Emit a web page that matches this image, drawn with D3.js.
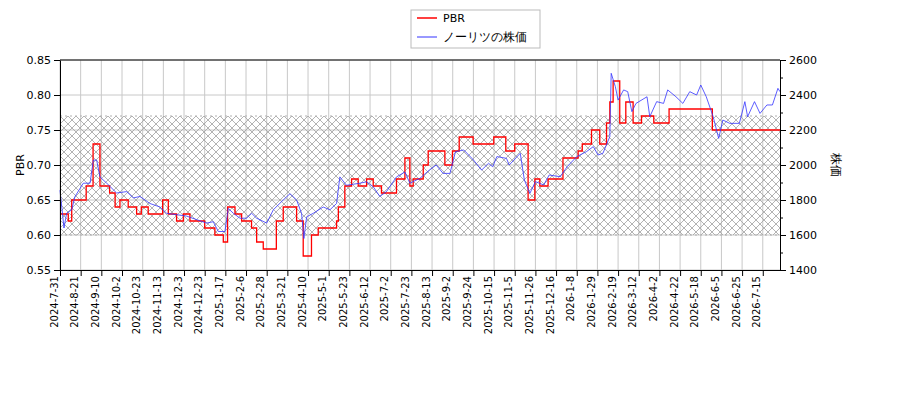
<!DOCTYPE html><html><head><meta charset="utf-8"><script src="https://cdn.jsdelivr.net/npm/d3@7"></script>
<style>body{margin:0;background:#fff}text{font-family:"DejaVu Sans",sans-serif}</style></head><body><svg id="c" width="900" height="400"></svg>
<script>
const tickLabels=["2024-7-31","2024-8-21","2024-9-10","2024-10-2","2024-10-23","2024-11-13","2024-12-3","2024-12-23","2025-1-17","2025-2-6","2025-2-28","2025-3-21","2025-4-10","2025-5-1","2025-5-23","2025-6-12","2025-7-2","2025-7-23","2025-8-13","2025-9-2","2025-9-24","2025-10-15","2025-11-5","2025-11-26","2025-12-16","2026-1-8","2026-1-29","2026-2-19","2026-3-12","2026-4-2","2026-4-22","2026-5-18","2026-6-5","2026-6-25","2026-7-15"];
const pbrIdx=[0,6,8.5,19,24,29,36,40,43.5,49.5,55.6,59,64,74.5,78.6,84.6,89.5,94.3,105,112.4,118.5,121.6,127,131.8,139,142.7,147.5,157,162,171.7,176.5,182.5,187.4,200.7,202,206.7,211.6,216.4,222.5,227.3,233.3,244.2,250.3,253.9,256.3,263.6,267.2,279.3,284.8,289.7,299.8,314.8,323.5,330,339.7,344.6,348.2,354.2,365,376,379,385.7,391.7,396.6,399,401.4,406.2,410.6,415.9,422,430.9,442,473.4,522.5];
const pbrVal=[0.63,0.62,0.65,0.67,0.73,0.67,0.66,0.64,0.65,0.64,0.63,0.64,0.63,0.65,0.63,0.62,0.63,0.62,0.61,0.60,0.59,0.64,0.63,0.62,0.61,0.59,0.58,0.62,0.64,0.62,0.57,0.60,0.61,0.62,0.64,0.67,0.68,0.67,0.68,0.67,0.66,0.68,0.71,0.67,0.68,0.70,0.72,0.70,0.72,0.74,0.73,0.74,0.72,0.73,0.65,0.68,0.67,0.68,0.71,0.72,0.73,0.75,0.73,0.76,0.79,0.82,0.76,0.79,0.76,0.77,0.76,0.78,0.75,0.75];
const priceIdx=[0,2.9,4.8,8.5,10.9,16.9,21.8,24.2,26.6,29,33.9,41.1,48.4,53.2,58,65.3,72.6,77.4,84.6,91.9,99.1,106.4,111.2,114.9,119.7,122.1,125.8,130.6,135.4,139.1,142.7,150,154.8,162,166.9,171.7,175.3,177,179,183.8,191,195.9,200.7,203.1,207.9,217.6,222.5,227.3,232.1,236.9,244.2,250.3,253.9,261.2,268,273,278,283,287,293,300,306,311,314,317,324,326,334,337,341,345,351,355,363,368,375,382,387,390.5,394,399,400,403,405,409,412,415,418,426,428,433,438,441,447,452,457,462,465,469,474,478,481,486,493,497,499,504,508,513,517,521,522.5];
const priceVal=[1856,1640,1724,1744,1820,1896,1896,2028,2028,1932,1896,1840,1848,1812,1820,1780,1760,1724,1716,1708,1688,1668,1676,1620,1620,1752,1724,1696,1696,1724,1696,1668,1744,1800,1836,1800,1724,1580,1704,1724,1760,1744,1780,1932,1884,1896,1904,1876,1820,1848,1932,1960,1896,1924,1971,2000,1952,1952,2076,2086,2029,1971,2010,1990,2048,2038,2000,2067,1914,1838,1905,1886,1943,1933,1990,2048,2076,2105,2057,2067,2162,2524,2448,2371,2429,2419,2305,2352,2390,2276,2362,2352,2429,2390,2352,2419,2400,2457,2390,2276,2152,2257,2238,2238,2362,2276,2362,2295,2343,2343,2438,2419];
const leftTicks=[0.55,0.60,0.65,0.70,0.75,0.80,0.85];
const rightTicks=[1400,1600,1800,2000,2200,2400,2600];
const band=[0.60,0.77];

const svg=d3.select("#c"),L=60,R=780,T=60,B=270;
const x=d3.scaleLinear().domain([0,522.5]).range([L,R]);
const y=d3.scaleLinear().domain([0.55,0.85]).range([B,T]);
const y2=d3.scaleLinear().domain([1400,2600]).range([B,T]);
const defs=svg.append("defs");
const pat=defs.append("pattern").attr("id","h").attr("patternUnits","userSpaceOnUse").attr("width",8).attr("height",8);
pat.append("path").attr("d","M0,0L8,8M8,0L0,8").attr("stroke","#a0a0a0").attr("stroke-width",0.8);
const xt=tickLabels.map((d,i)=>i*15);
const g=svg.append("g");
g.selectAll(".vx").data(xt).join("line").attr("x1",d=>x(d)).attr("x2",d=>x(d)).attr("y1",T).attr("y2",B).attr("stroke","#c8c8c8");
g.selectAll(".hy").data(leftTicks).join("line").attr("x1",L).attr("x2",R).attr("y1",d=>y(d)).attr("y2",d=>y(d)).attr("stroke","#c8c8c8");
svg.append("rect").attr("x",L).attr("width",R-L).attr("y",y(band[1])).attr("height",y(band[0])-y(band[1])).attr("fill","url(#h)");
band.forEach(b=>svg.append("line").attr("x1",L).attr("x2",R).attr("y1",y(b)).attr("y2",y(b)).attr("stroke","#b0b0b0").attr("stroke-dasharray","2,3"));
svg.append("path").datum(pbrIdx.map((d,i)=>[d,pbrVal[i]])).attr("fill","none").attr("stroke","#ff0000").attr("stroke-width",1.3)
 .attr("d",d3.line().x(d=>x(d[0])).y(d=>y(d[1])).curve(d3.curveStepAfter));
svg.append("path").datum(priceIdx.map((d,i)=>[d,priceVal[i]])).attr("fill","none").attr("stroke","#3333ff").attr("stroke-width",0.8)
 .attr("d",d3.line().x(d=>x(d[0])).y(d=>y2(d[1])));
const ax=svg.append("g").attr("transform",`translate(0,${B})`).call(d3.axisBottom(x).tickValues(xt).tickFormat((d,i)=>tickLabels[i]).tickSizeOuter(0));
ax.selectAll("text").attr("transform","rotate(-90)").attr("text-anchor","end").attr("dx","-0.4em").attr("dy","-0.3em").attr("x",-2).attr("y",0).style("font-size","10px");
const al=svg.append("g").attr("transform",`translate(${L},0)`).call(d3.axisLeft(y).tickValues(leftTicks).tickFormat(d3.format(".2f")).tickSizeOuter(0));
al.selectAll("text").style("font-size","11px");
const ar=svg.append("g").attr("transform",`translate(${R},0)`).call(d3.axisRight(y2).tickValues(d3.range(1400,2601,100)).tickFormat(d=>rightTicks.includes(d)?d:"").tickSize(4).tickSizeOuter(0));
ar.selectAll(".tick line").attr("x2",d=>rightTicks.includes(d)?6:3);
ar.selectAll("text").style("font-size","11px").attr("x",9);
svg.selectAll(".domain").attr("stroke","#000");
svg.append("line").attr("x1",L).attr("x2",R).attr("y1",T).attr("y2",T).attr("stroke","#000");
svg.append("text").attr("transform",`translate(24,${(T+B)/2}) rotate(-90)`).attr("text-anchor","middle").style("font-size","11px").text("PBR");
svg.append("text").attr("transform",`translate(832,${(T+B)/2}) rotate(90)`).attr("text-anchor","middle").style("font-size","12px").text("株価");
const lg=svg.append("g");
lg.append("rect").attr("x",411).attr("y",10).attr("width",129).attr("height",38).attr("fill","#fff").attr("stroke","#bbb");
lg.append("line").attr("x1",417).attr("x2",437).attr("y1",18).attr("y2",18).attr("stroke","#ff0000").attr("stroke-width",1.5);
lg.append("line").attr("x1",417).attr("x2",437).attr("y1",37).attr("y2",37).attr("stroke","#3333ff");
lg.append("text").attr("x",443).attr("y",22).style("font-size","11px").text("PBR");
lg.append("text").attr("x",443).attr("y",41).style("font-size","12px").text("ノーリツの株価");
</script></body></html>
